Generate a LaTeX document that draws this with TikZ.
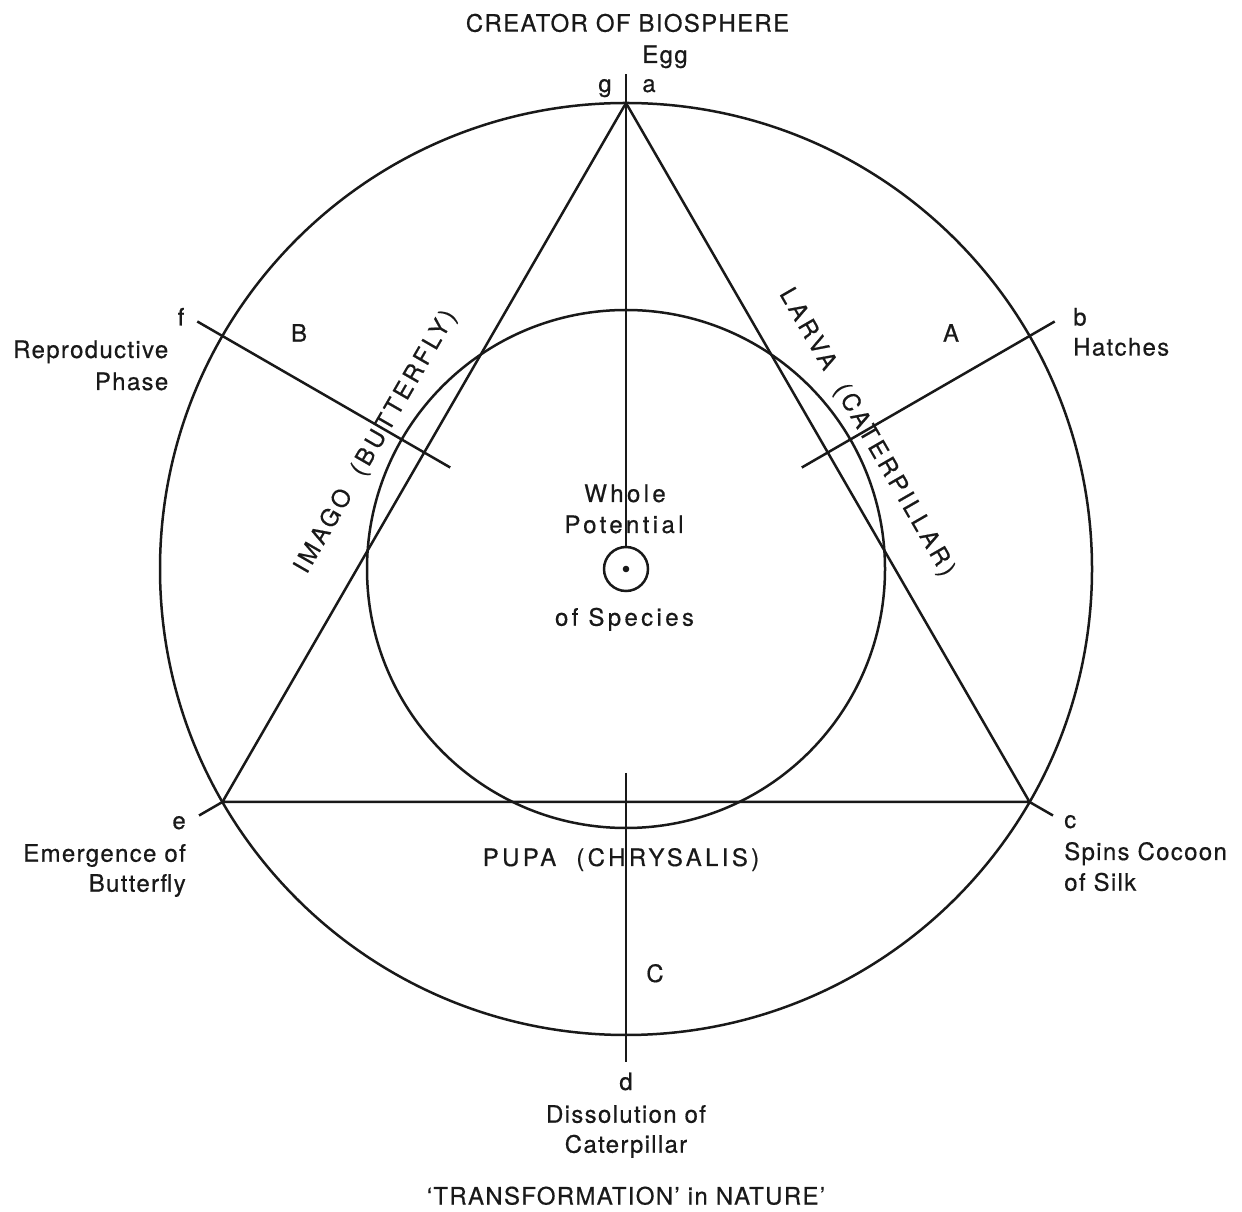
\documentclass[tikz,border=0pt]{standalone}
\usepackage{fontspec}
\setmainfont{TeX Gyre Heros}
\newfontfamily\lblfont{TeX Gyre Heros}[LetterSpace=5.5,FakeBold=0.5]
\newfontfamily\spfont{TeX Gyre Heros}[LetterSpace=14,FakeBold=0.5]
\usetikzlibrary{calc}
\begin{document}
\begin{tikzpicture}[x=1pt,y=1pt,line width=2.5pt,line cap=butt,
  lbl/.style={font=\lblfont\fontsize{24}{28}\selectfont,inner sep=0pt,text=black!90},
  sp/.style={font=\spfont\fontsize{24}{28}\selectfont,inner sep=0pt,text=black!90},
  ring/.style={draw=black!90},
  spoke/.style={draw=black!90}]
\useasboundingbox (0,0) rectangle (1242,1211);
\coordinate (O) at (626,642);
% circles
\draw[ring] (O) circle[radius=466pt];
\draw[ring] (O) circle[radius=259pt];
\node[draw=black!90,circle,minimum size=44pt,inner sep=0pt,line width=2.5pt] (core) at (O) {};
\fill[black!90] (O) circle[radius=3.3pt];
% triangle vertices
\coordinate (va) at ($(O)+(90:466)$);
\coordinate (ve) at ($(O)+(210:466)$);
\coordinate (vc) at ($(O)+(330:466)$);
\draw[ring,line join=miter] (va) -- (ve) -- (vc) -- cycle;
% spokes
\coordinate (atop) at ($(O)+(90:495)$);
\draw[spoke] (core.north) -- (atop);
\coordinate (bin) at ($(O)+(30:203)$);
\coordinate (bout) at ($(O)+(30:495)$);
\draw[spoke] (bin) -- (bout);
\coordinate (fin) at ($(O)+(150:203)$);
\coordinate (fout) at ($(O)+(150:495)$);
\draw[spoke] (fin) -- (fout);
\coordinate (din) at ($(O)+(270:204)$);
\coordinate (dout) at ($(O)+(270:493)$);
\draw[spoke] (din) -- (dout);
\coordinate (cout) at ($(O)+(330:493)$);
\draw[spoke] (vc) -- (cout);
\coordinate (eout) at ($(O)+(210:493)$);
\draw[spoke] (ve) -- (eout);
% top labels
\node[lbl,anchor=base] (title) at (627.5,1179.3) {CREATOR OF BIOSPHERE};
\node[lbl,anchor=base] (egg) at (665,1148) {Egg};
\node[lbl,anchor=base] (lg) at (605,1119) {g};
\node[lbl,anchor=base] (la) at (649,1119) {a};
% f
\node[lbl,anchor=base] (lf) at (181,885.5) {f};
\node[lbl,anchor=base east] (repro) at (169.5,853) {Reproductive};
\node[lbl,anchor=base east] (phase) at (169.5,821) {Phase};
% b
\node[lbl,anchor=base west] (lb) at (1072,885.5) {b};
\node[lbl,anchor=base west] (hatch) at (1072,855.5) {Hatches};
% sectors
\node[lbl,anchor=base] (sB) at (299,869.3) {B};
\node[lbl,anchor=base] (sA) at (951,869.3) {A};
\node[lbl,anchor=base] (sC) at (655,229) {C};
% e
\node[lbl,anchor=base east] (le) at (187,382) {e};
\node[lbl,anchor=base east] (emerg) at (187,349.3) {Emergence of};
\node[lbl,anchor=base east] (bfly) at (187,319.3) {Butterfly};
% c
\node[lbl,anchor=base west] (lc) at (1063,383) {c};
\node[lbl,anchor=base west] (spins) at (1063,351) {Spins Cocoon};
\node[lbl,anchor=base west] (silk) at (1063,320.3) {of Silk};
% d
\node[lbl,anchor=base] (ld) at (626,121) {d};
\node[lbl,anchor=base] (diss) at (626,88.3) {Dissolution of};
\node[lbl,anchor=base] (cat) at (626,58.3) {Caterpillar};
\node[lbl,anchor=base] (caption) at (626,6.5) {‘TRANSFORMATION’ in NATURE’};
% centre
\node[sp,anchor=base] (whole) at (625,709) {Whole};
\node[sp,anchor=base] (pot) at (624,678) {Potential};
\node[sp,anchor=base] (spec) at (624.5,585.3) {of Species};
% stages
\node[sp,anchor=base] (pupa) at (621,345) {PUPA\ \ (CHRYSALIS)};
\node[sp,rotate=60] (imago) at (376,769) {IMAGO\ \ (BUTTERFLY)};
\node[sp,rotate=-60] (larva) at (866.5,778.5) {LARVA\ \ (CATERPILLAR)};
\end{tikzpicture}
\end{document}
